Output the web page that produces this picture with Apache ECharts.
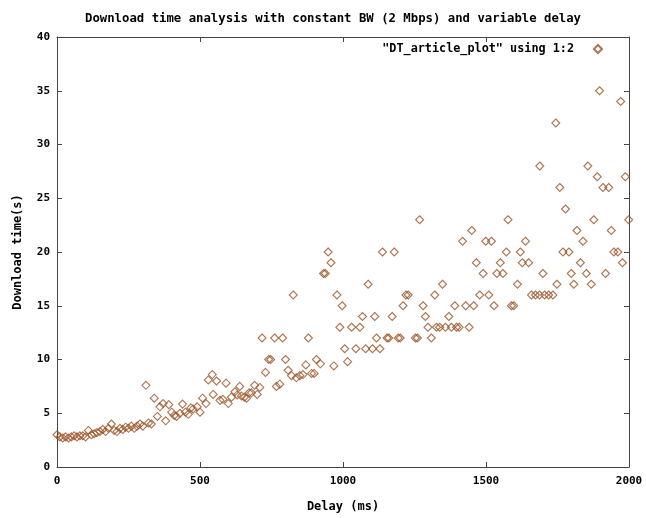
<!DOCTYPE html>
<html>
<head>
<meta charset="utf-8">
<script src="https://cdn.jsdelivr.net/npm/echarts@6/dist/echarts.min.js"></script>
<style>
html, body { margin: 0; padding: 0; background: #fff; }
#main { width: 646px; height: 518px; }
</style>
</head>
<body>
<div id="main"></div>
<script>
// delay (ms) and download time (s)
const delayMs = [
  0, 10, 20, 30, 40, 50, 60, 70, 80, 90, 100, 110, 120, 130, 140, 150, 160, 170, 180, 190,
  200, 210, 220, 230, 240, 250, 260, 270, 280, 290, 300, 311, 320, 330, 340, 351, 360, 371, 380, 391,
  401, 410, 418, 430, 439, 449, 459, 468, 476, 490, 500, 509, 521, 529, 543, 546, 558, 570, 580, 591,
  599, 610, 622, 630, 639, 645, 655, 663, 672, 680, 691, 700, 709, 717, 729, 740, 747, 761, 767, 779,
  789, 799, 808, 820, 826, 837, 849, 860, 870, 879, 890, 899, 907, 921, 932, 938, 948, 958, 968, 979,
  989, 997, 1006, 1016, 1030, 1045, 1059, 1068, 1079, 1088, 1103, 1111, 1117, 1129, 1138, 1154, 1160, 1172, 1179, 1193,
  1200, 1210, 1220, 1228, 1253, 1260, 1268, 1280, 1288, 1297, 1309, 1321, 1327, 1338, 1348, 1358, 1370, 1379, 1391, 1397,
  1406, 1418, 1429, 1441, 1450, 1457, 1466, 1478, 1490, 1499, 1510, 1519, 1528, 1538, 1550, 1559, 1571, 1577, 1589, 1597,
  1610, 1620, 1627, 1638, 1649, 1659, 1673, 1687, 1688, 1699, 1705, 1719, 1734, 1744, 1748, 1758, 1769, 1778, 1790, 1798,
  1807, 1818, 1830, 1839, 1851, 1856, 1868, 1877, 1889, 1897, 1909, 1918, 1929, 1938, 1947, 1961, 1971, 1977, 1987,
  1999
]
const downloadTime = [
  3.0, 2.8, 2.7, 2.8, 2.7, 2.8, 2.9, 2.8, 2.9, 2.9, 2.8, 3.4, 3.0, 3.1, 3.2, 3.3, 3.5, 3.3, 3.6, 4.0,
  3.4, 3.3, 3.6, 3.5, 3.7, 3.6, 3.8, 3.6, 3.8, 4.0, 3.8, 7.6, 4.1, 4.0, 6.4, 4.7, 5.6, 5.9, 4.3, 5.8,
  5.1, 4.8, 4.7, 5.0, 5.85, 5.1, 4.9, 5.5, 5.4, 5.6, 5.1, 6.4, 5.9, 8.1, 8.6, 6.75, 8.0, 6.2, 6.3, 7.8,
  5.9, 6.5, 7.0, 6.7, 7.5, 6.6, 6.5, 6.4, 6.9, 6.9, 7.6, 6.75, 7.4, 12, 8.8, 10, 10, 12, 7.5, 7.7,
  12, 10, 9.0, 8.5, 16, 8.3, 8.5, 8.6, 9.5, 12, 8.7, 8.7, 10, 9.6, 18, 18, 20, 19, 9.4, 16,
  13, 15, 11, 9.8, 13, 11, 13, 14, 11, 17, 11, 14, 12, 11, 20, 12, 12, 14, 20, 12,
  12, 15, 16, 16, 12, 12, 23, 15, 14, 13, 12, 16, 13, 13, 17, 13, 14, 13, 15, 13,
  13, 21, 15, 13, 22, 15, 19, 16, 18, 21, 16, 21, 15, 18, 19, 18, 20, 23, 15, 15,
  17, 20, 19, 21, 19, 16, 16, 16, 28, 18, 16, 16, 16, 32, 17, 26, 20, 24, 20, 18,
  17, 22, 19, 21, 18, 28, 17, 23, 27, 35, 26, 18, 26, 22, 20, 20, 34, 19, 27,
  23
]
const seriesName = '"DT_article_plot" using 1:2'

const font = 'DejaVu Sans Mono'
const axisColor = '#444'
const markColor = '#9a5226'

const chart = echarts.init(document.getElementById('main'))

const baseAxis = {
  axisLine: { show: true, onZero: false, lineStyle: { color: axisColor, width: 1 } },
  axisTick: { show: true, inside: true, length: 5, lineStyle: { color: axisColor } },
  splitLine: { show: false }
}
const labelStyle = { fontFamily: font, fontSize: 11, fontWeight: 'bold', color: '#000' }

chart.setOption({
  backgroundColor: '#fff',
  animation: false,
  title: {
    text: 'Download time analysis with constant BW (2 Mbps) and variable delay',
    left: 80,
    top: 8,
    textStyle: { fontFamily: font, fontSize: 12.3, fontWeight: 'bold', color: '#000' }
  },
  legend: {
    right: 38,
    top: 38,
    align: 'right',
    itemWidth: 8,
    itemHeight: 8,
    textStyle: { fontFamily: font, fontSize: 11.8, fontWeight: 'bold', color: '#000', padding: [0, 15, 0, 0] },
    data: [seriesName]
  },
  grid: {
    left: 57,
    right: 17,
    top: 37,
    bottom: 43,
    containLabel: false
  },
  xAxis: [
    {
      ...baseAxis,
      type: 'value',
      position: 'bottom',
      min: 0,
      max: 2000,
      interval: 500,
      name: 'Delay (ms)',
      nameLocation: 'middle',
      nameGap: 34,
      nameTextStyle: { fontFamily: font, fontSize: 12, fontWeight: 'bold', color: '#000' },
      axisLabel: { ...labelStyle, margin: 9, formatter: v => String(v) }
    },
    {
      ...baseAxis,
      type: 'value',
      position: 'top',
      min: 0,
      max: 2000,
      interval: 500,
      axisLabel: { show: false }
    }
  ],
  yAxis: [
    {
      ...baseAxis,
      type: 'value',
      position: 'left',
      min: 0,
      max: 40,
      interval: 5,
      name: 'Download time(s)',
      nameLocation: 'middle',
      nameGap: 33,
      nameTextStyle: { fontFamily: font, fontSize: 12, fontWeight: 'bold', color: '#000' },
      axisLabel: { ...labelStyle, margin: 7 }
    },
    {
      ...baseAxis,
      type: 'value',
      position: 'right',
      min: 0,
      max: 40,
      interval: 5,
      axisLabel: { show: false }
    }
  ],
  series: [
    {
      name: seriesName,
      type: 'scatter',
      xAxisIndex: 0,
      yAxisIndex: 0,
      symbol: 'diamond',
      symbolSize: 8,
      itemStyle: { color: 'rgba(255,255,255,0)', borderColor: markColor, borderWidth: 1.1 },
      data: delayMs.map((d, i) => [d, downloadTime[i]])
    }
  ]
})
</script>
</body>
</html>
